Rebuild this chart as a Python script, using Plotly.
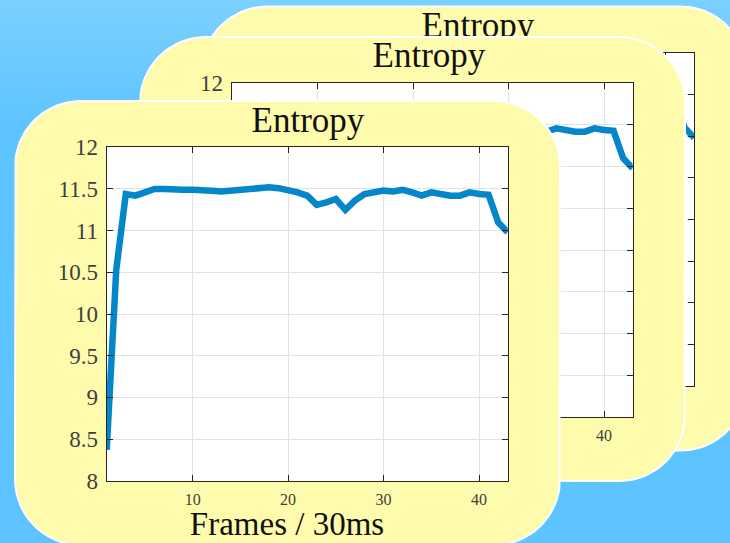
import math
import plotly.graph_objects as go

# Page size in pixels
W, H = 730, 543

# Entropy per frame (30 ms frames)
frames = list(range(1, 44))
entropy = [8.37, 10.53, 11.44, 11.42, 11.46, 11.50, 11.50, 11.49, 11.49, 11.49,
           11.49, 11.48, 11.47, 11.48, 11.49, 11.50, 11.51, 11.52, 11.51, 11.49,
           11.46, 11.42, 11.31, 11.34, 11.38, 11.25, 11.36, 11.44, 11.47, 11.48,
           11.47, 11.49, 11.46, 11.42, 11.46, 11.43, 11.42, 11.42, 11.46, 11.44,
           11.43, 11.10, 10.98]

y_tick_vals = [8, 8.5, 9, 9.5, 10, 10.5, 11, 11.5, 12]
y_tick_text = ["8", "8.5", "9", "9.5", "10", "10.5", "11", "11.5", "12"]
x_tick_vals = [10, 20, 30, 40]
x_tick_text = ["10", "20", "30", "40"]

chart_title = "Entropy"
x_label = "Frames / 30ms"

# Styling
SERIF = "Liberation Serif"
CARD_FILL = "#fffbac"
LINE_BLUE = "#0386ca"
AXIS_COLOR = "#262626"
GRID_COLOR = "#e2e2e2"
TICK_FONT_COLOR = "#404040"

CARD_W, CARD_H, CARD_R = 545, 444, 66
# plot box inside a card (left, top, right, bottom), relative to card origin
PLOT_BOX = (91.7, 46.3, 492.7, 379.7)

# stacked cards, drawn back to front: origin, title centre, axis-label
# centre (only the front card's label is in view), tick labels in view
cards = [
    dict(origin=(201.5, 6.5), title=(478, 28), xlabel=None, ticklabels=False),
    dict(origin=(140.0, 37.0), title=(429, 58.5), xlabel=None, ticklabels=True),
    dict(origin=(15.0, 101.0), title=(308, 123), xlabel=(287, 527),
         ticklabels=True),
]


def rounded_rect(x0, y0, w, h, r, n=24):
    """Outline of a rounded rectangle in pixel coordinates (y down)."""
    xs, ys = [], []
    corners = [
        (x0 + w - r, y0 + r, -90, 0),
        (x0 + w - r, y0 + h - r, 0, 90),
        (x0 + r, y0 + h - r, 90, 180),
        (x0 + r, y0 + r, 180, 270),
    ]
    for cx, cy, a0, a1 in corners:
        for i in range(n + 1):
            a = math.radians(a0 + (a1 - a0) * i / n)
            xs.append(cx + r * math.cos(a))
            ys.append(cy + r * math.sin(a))
    xs.append(xs[0])
    ys.append(ys[0])
    return xs, ys


fig = go.Figure()
layout_axes = {}

for k, card in enumerate(cards):
    bg_n = 2 * k + 1
    ch_n = 2 * k + 2
    bx = "x" if bg_n == 1 else f"x{bg_n}"
    by = "y" if bg_n == 1 else f"y{bg_n}"
    cx_, cy_ = f"x{ch_n}", f"y{ch_n}"
    ox, oy = card["origin"]

    if k == 0:
        # soft sky gradient behind everything
        fig.add_trace(go.Heatmap(
            x=[-10, W + 10], y=[-5, 125], z=[[0, 0], [1, 1]],
            colorscale=[[0, "#7cd1ff"], [1, "#5ec4ff"]],
            zsmooth="best", showscale=False, hoverinfo="skip",
            xaxis=bx, yaxis=by))

    # card body
    rx, ry = rounded_rect(ox, oy, CARD_W, CARD_H, CARD_R)
    fig.add_trace(go.Scatter(
        x=rx, y=ry, mode="lines", fill="toself", fillcolor=CARD_FILL,
        line=dict(color="white", width=2), hoverinfo="skip",
        xaxis=bx, yaxis=by))

    # white plotting area
    l, t, r, b = (ox + PLOT_BOX[0], oy + PLOT_BOX[1],
                  ox + PLOT_BOX[2], oy + PLOT_BOX[3])
    fig.add_trace(go.Scatter(
        x=[l, r, r, l, l], y=[t, t, b, b, t], mode="lines", fill="toself",
        fillcolor="white", line=dict(width=0, color="white"),
        hoverinfo="skip", xaxis=bx, yaxis=by))

    # title and x-axis label
    fig.add_trace(go.Scatter(
        x=[card["title"][0]], y=[card["title"][1]], mode="text",
        text=[chart_title], textposition="middle center",
        textfont=dict(family=SERIF, size=35, color="#111111"),
        hoverinfo="skip", xaxis=bx, yaxis=by))
    if card["xlabel"] is not None:
        fig.add_trace(go.Scatter(
            x=[card["xlabel"][0]], y=[card["xlabel"][1]], mode="text",
            text=[x_label], textposition="middle center",
            textfont=dict(family=SERIF, size=33, color="#111111"),
            hoverinfo="skip", xaxis=bx, yaxis=by))

    # entropy curve
    fig.add_trace(go.Scatter(
        x=frames, y=entropy, mode="lines",
        line=dict(color=LINE_BLUE, width=6.5),
        hoverinfo="skip", xaxis=cx_, yaxis=cy_))

    bg_x_key = "xaxis" if bg_n == 1 else f"xaxis{bg_n}"
    bg_y_key = "yaxis" if bg_n == 1 else f"yaxis{bg_n}"
    layout_axes[bg_x_key] = dict(domain=[0, 1], range=[0, W], visible=False,
                                 fixedrange=True, anchor=by, automargin=False)
    layout_axes[bg_y_key] = dict(domain=[0, 1], range=[H, 0], visible=False,
                                 fixedrange=True, anchor=bx, automargin=False)

    common = dict(showline=True, linecolor=AXIS_COLOR, linewidth=1.3,
                  mirror="ticks", ticks="inside", ticklen=6,
                  tickcolor=AXIS_COLOR, tickwidth=1, showgrid=True,
                  gridcolor=GRID_COLOR, gridwidth=1, zeroline=False,
                  fixedrange=True, automargin=False,
                  showticklabels=card["ticklabels"])
    layout_axes[f"xaxis{ch_n}"] = dict(
        domain=[l / W, r / W], anchor=cy_, range=[1, 43],
        tickvals=x_tick_vals, ticktext=x_tick_text,
        tickfont=dict(family=SERIF, size=16, color=TICK_FONT_COLOR),
        ticklabelstandoff=4, **common)
    layout_axes[f"yaxis{ch_n}"] = dict(
        domain=[1 - b / H, 1 - t / H], anchor=cx_, range=[8, 12],
        tickvals=y_tick_vals, ticktext=y_tick_text,
        tickfont=dict(family=SERIF, size=23, color=TICK_FONT_COLOR),
        ticklabelstandoff=3, **common)

fig.update_layout(
    width=W, height=H,
    margin=dict(l=0, r=0, t=0, b=0, pad=0, autoexpand=False),
    paper_bgcolor="#5ec4ff",
    plot_bgcolor="rgba(0,0,0,0)",
    showlegend=False,
    hovermode=False,
    **layout_axes,
)

fig.write_html("out.html")
